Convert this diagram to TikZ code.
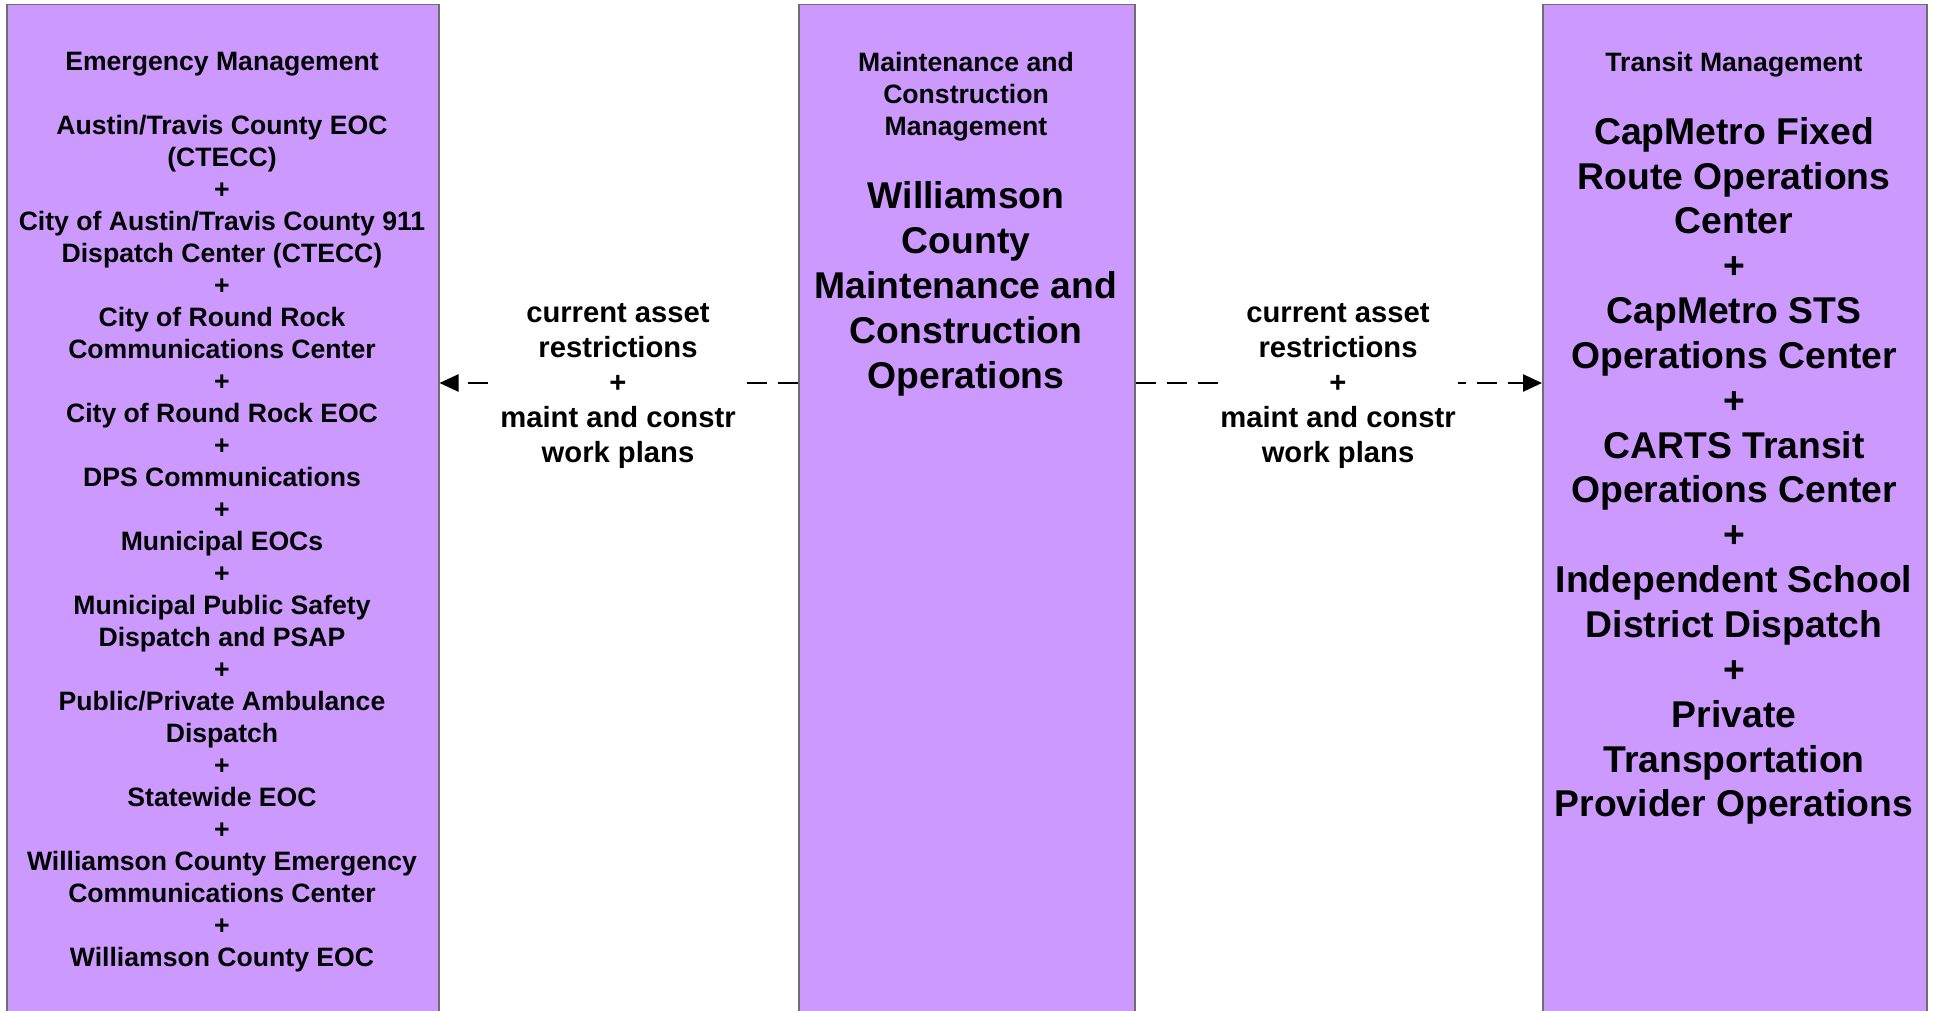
\documentclass[tikz,border=0pt]{standalone}
\usepackage{fontspec}
\setmainfont{Liberation Sans}
\usetikzlibrary{arrows.meta}
\definecolor{boxfill}{HTML}{CC99FF}
\definecolor{boxline}{HTML}{6E6E6E}
\begin{document}
\begin{tikzpicture}[x=1pt,y=-1pt,
  sysbox/.style={draw=boxline, line width=1.5pt, fill=boxfill, inner sep=0pt, anchor=north west, minimum height=1040pt},
  small/.style={font=\bfseries\fontsize{26.6}{32}\selectfont, align=center, inner sep=0pt},
  big/.style={font=\bfseries\fontsize{37.3}{44.85}\selectfont, align=center, inner sep=0pt},
  flowlabel/.style={font=\bfseries\fontsize{29.2}{35}\selectfont, align=center, fill=white, inner sep=2pt},
  flow/.style={line width=2.5pt, dash pattern=on 20pt off 11pt, -{Triangle[length=19pt,width=17pt]}}]
\clip (0,0) rectangle (1935,1011);
\fill[white] (0,0) rectangle (1935,1011);
% boxes
\node[sysbox, minimum width=432pt] (em) at (6,4) {};
\node[sysbox, minimum width=336pt] (mc) at (798,4) {};
\node[sysbox, minimum width=384pt] (tm) at (1542,4) {};
% connectors
\coordinate (fy) at (0,383);
\draw[flow] (mc.west |- fy) -- (em.east |- fy);
\draw[flow] (mc.east |- fy) -- (tm.west |- fy);
\node[flowlabel] (lab1) at (618,385.9) {current asset\\restrictions\\+\\maint and constr\\work plans};
\node[flowlabel] (lab2) at (1338,385.9) {current asset\\restrictions\\+\\maint and constr\\work plans};
% box texts
\node[small] (emtxt) at (222,512.5) {Emergency Management\\[32pt]
Austin/Travis County EOC\\(CTECC)\\+\\City of Austin/Travis County 911\\Dispatch Center (CTECC)\\+\\
City of Round Rock\\Communications Center\\+\\City of Round Rock EOC\\+\\DPS Communications\\+\\
Municipal EOCs\\+\\Municipal Public Safety\\Dispatch and PSAP\\+\\Public/Private Ambulance\\Dispatch\\+\\
Statewide EOC\\+\\Williamson County Emergency\\Communications Center\\+\\Williamson County EOC};
\node[small] (mctitle) at (966,96.6) {Maintenance and\\Construction\\Management};
\node[big] (mctxt) at (966,288.7) {Williamson\\County\\Maintenance and\\Construction\\Operations};
\node[small] (tmtitle) at (1734,64.6) {Transit Management};
\node[big] (tmtxt) at (1734,470.9) {CapMetro Fixed\\Route Operations\\Center\\+\\CapMetro STS\\Operations Center\\+\\
CARTS Transit\\Operations Center\\+\\Independent School\\District Dispatch\\+\\Private\\Transportation\\Provider Operations};
\end{tikzpicture}
\end{document}
